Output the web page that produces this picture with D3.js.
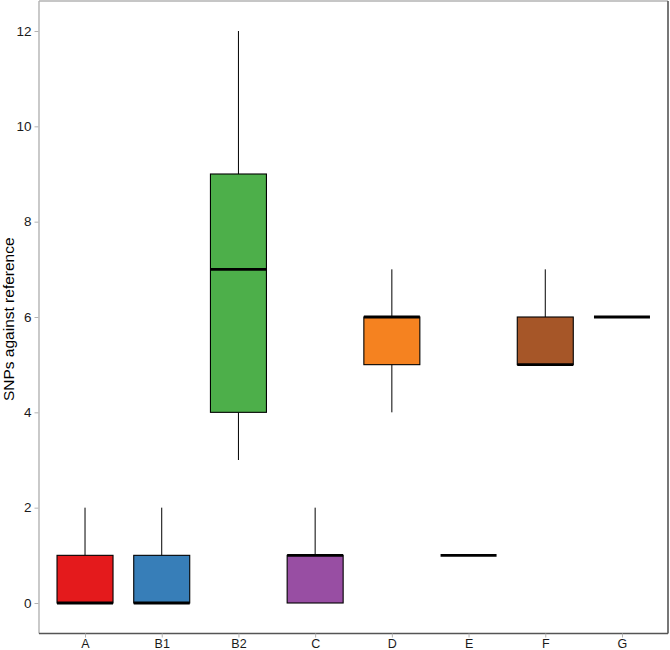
<!DOCTYPE html>
<html><head><meta charset="utf-8">
<script src="https://cdn.jsdelivr.net/npm/d3@7"></script>
<style>body{margin:0;background:#fff}svg{display:block}</style>
</head><body>
<script>
const categories = ["A","B1","B2","C","D","E","F","G"];
const whiskerLow = [0,0,3,0,4,1,5,6];
const q1 =         [0,0,4,0,5,1,5,6];
const median =     [0,0,7,1,6,1,5,6];
const q3 =         [1,1,9,1,6,1,6,6];
const whiskerHigh =[2,2,12,2,7,1,7,6];
const fills = ["#E41A1C","#377EB8","#4DAF4A","#984EA3","#F58220","#FFFF33","#A65628","#F781BF"];
const yTicks = [0,2,4,6,8,10,12];
const yLabel = "SNPs against reference";

const W = 670, H = 650;
const L = 39, R = 668, T = 1, B = 633.5;
const FONT = "Liberation Sans, Arial, sans-serif";
const svg = d3.select("body").append("svg").attr("width", W).attr("height", H);

const x = d3.scalePoint().domain(categories).range([L, R]).padding(0.6);
const step = x.step();
const y = d3.scaleLinear().domain([0, 12]).range([603, 31]);
const bw = step * 0.73;

svg.append("rect").attr("x", L).attr("y", T).attr("width", R - L).attr("height", B - T).attr("fill", "#fff");

const data = categories.map((c, i) => ({c, lo: whiskerLow[i], q1: q1[i], med: median[i], q3: q3[i], hi: whiskerHigh[i], fill: fills[i]}));

const g = svg.append("g");
data.forEach(d => {
  const cx = x(d.c);
  if (d.hi > d.q3) g.append("line").attr("x1", cx).attr("x2", cx).attr("y1", y(d.hi)).attr("y2", y(d.q3)).attr("stroke", "#000").attr("stroke-width", 1);
  if (d.lo < d.q1) g.append("line").attr("x1", cx).attr("x2", cx).attr("y1", y(d.q1)).attr("y2", y(d.lo)).attr("stroke", "#000").attr("stroke-width", 1);
  if (d.q3 > d.q1) g.append("rect").attr("x", cx - bw/2).attr("y", y(d.q3)).attr("width", bw).attr("height", y(d.q1) - y(d.q3))
    .attr("fill", d.fill).attr("stroke", "#000").attr("stroke-width", 1.1);
  g.append("line").attr("x1", cx - bw/2).attr("x2", cx + bw/2).attr("y1", y(d.med)).attr("y2", y(d.med)).attr("stroke", "#000").attr("stroke-width", 2.8);
});

// panel border: light top/left, dark right/bottom
svg.append("line").attr("x1", L).attr("x2", L).attr("y1", T).attr("y2", B).attr("stroke", "#b3b3b3").attr("stroke-width", 1.4);
svg.append("line").attr("x1", L).attr("x2", R).attr("y1", T).attr("y2", T).attr("stroke", "#b3b3b3").attr("stroke-width", 1.4);
svg.append("line").attr("x1", R).attr("x2", R).attr("y1", T).attr("y2", B).attr("stroke", "#555").attr("stroke-width", 1.6);
svg.append("line").attr("x1", L).attr("x2", R).attr("y1", B).attr("y2", B).attr("stroke", "#555").attr("stroke-width", 1.6);

const yAxis = d3.axisLeft(y).tickValues(yTicks).tickSize(4).tickPadding(3);
const ya = svg.append("g").attr("transform", `translate(${L - 0.5},0)`).call(yAxis);
ya.select(".domain").remove();
ya.selectAll(".tick line").attr("stroke", "#b3b3b3");
ya.selectAll(".tick text").attr("font-family", FONT).attr("font-size", 13.5).attr("fill", "#1a1a1a");

const xAxis = d3.axisBottom(x).tickSize(4).tickPadding(1.5);
const xa = svg.append("g").attr("transform", `translate(0,${B})`).call(xAxis);
xa.select(".domain").remove();
xa.selectAll(".tick line").attr("stroke", "#b3b3b3");
xa.selectAll(".tick text").attr("font-family", FONT).attr("font-size", 12.5).attr("fill", "#1a1a1a");

svg.append("text").attr("transform", `translate(13.5,${(T+B)/2 + 2}) rotate(-90)`).attr("text-anchor", "middle")
  .attr("font-family", FONT).attr("font-size", 15.5).attr("fill", "#000").text(yLabel);
</script>
</body></html>
